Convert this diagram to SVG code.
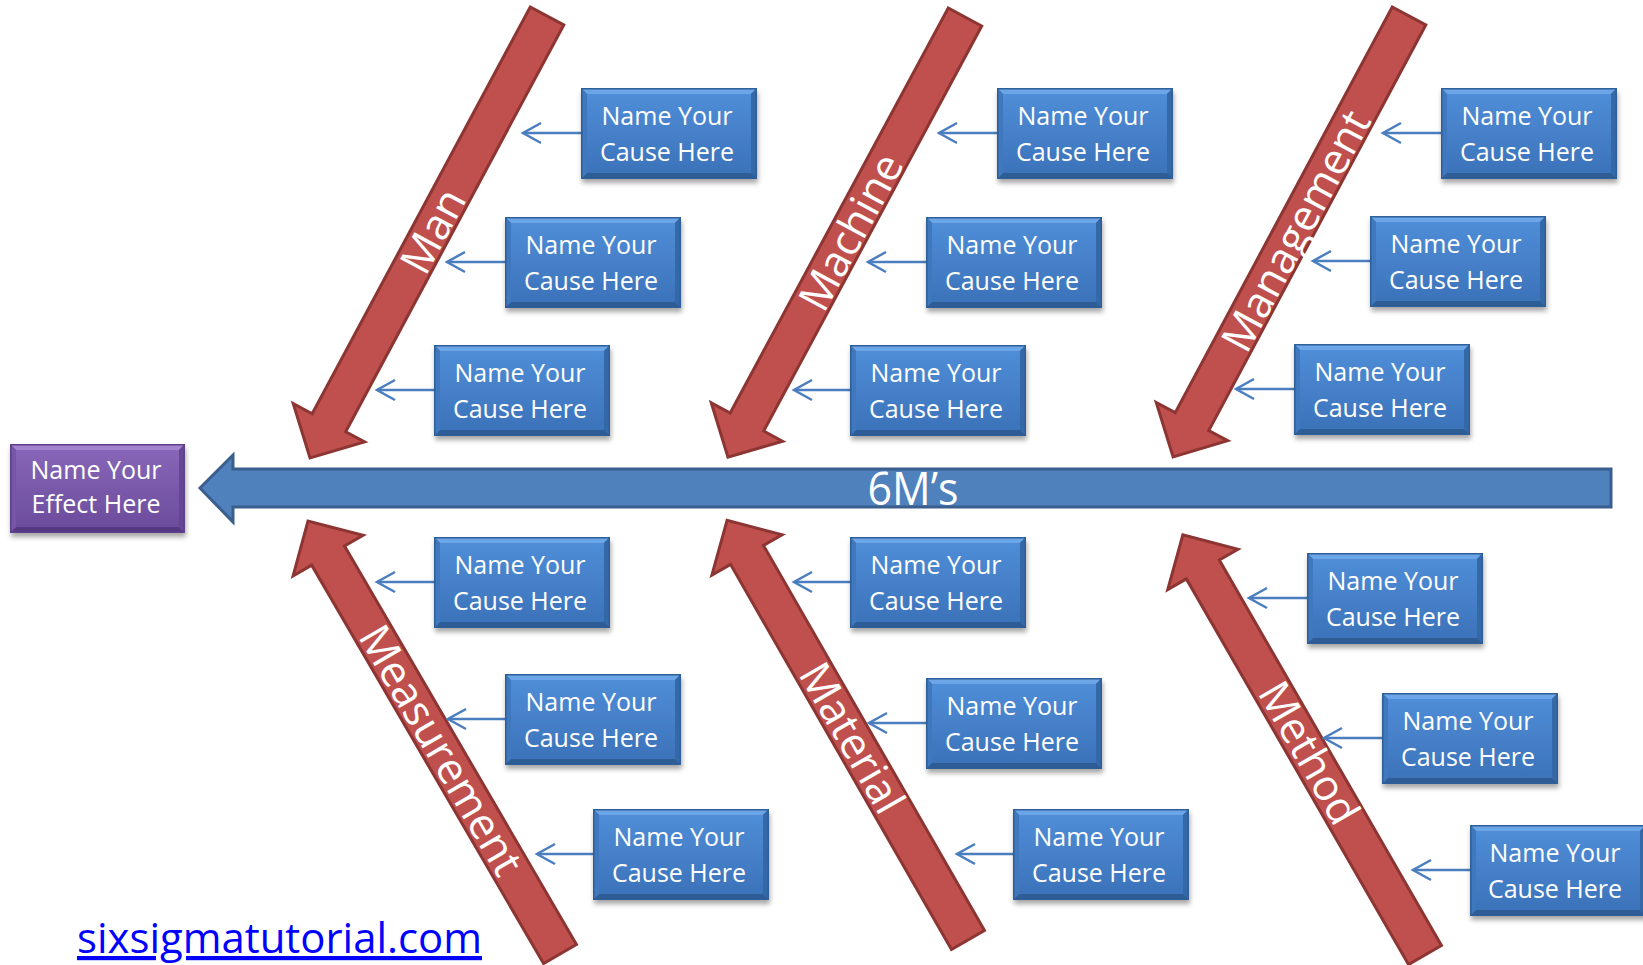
<svg xmlns="http://www.w3.org/2000/svg" xmlns:xlink="http://www.w3.org/1999/xlink" width="1643" height="965" viewBox="0 0 1643 965">
<style>
.ct{font-family:"Open Sans","Liberation Sans",sans-serif;font-size:25px;fill:#ffffff;text-anchor:middle}
.lbl{font-family:"Open Sans","Liberation Sans",sans-serif;font-size:43px;fill:#ffffff;text-anchor:middle}
.cat{fill:#C0504D;stroke:#8C3533;stroke-width:3;stroke-linejoin:miter}
.conn{stroke:#4A7EBF;stroke-width:2.5;fill:none}
.url{font-family:"Open Sans","Liberation Sans",sans-serif;font-size:42px;fill:#0000FF;text-decoration:underline}
</style>
<defs>
<linearGradient id="face" x1="0" y1="0" x2="0" y2="1">
<stop offset="0" stop-color="#4F8DD7"/><stop offset="1" stop-color="#3C73BA"/>
</linearGradient>
<linearGradient id="pface" x1="0" y1="0" x2="0" y2="1">
<stop offset="0" stop-color="#8766B8"/><stop offset="1" stop-color="#6C4C9D"/>
</linearGradient>
<filter id="sh" x="-10%" y="-10%" width="125%" height="135%">
<feDropShadow dx="1" dy="4" stdDeviation="2.5" flood-color="#000" flood-opacity="0.35"/>
</filter>
<marker id="chev" viewBox="-2 -2 24 24" refX="18" refY="10" markerWidth="24" markerHeight="24" markerUnits="userSpaceOnUse" orient="auto" overflow="visible">
<path d="M0,0 L18,10 L0,20" fill="none" stroke="#4A7EBF" stroke-width="2.5"/>
</marker>
<symbol id="cbox" viewBox="0 0 176 91" overflow="visible">
<rect x="0" y="0" width="176" height="91" fill="#3B6FB1"/>
<polygon points="0,0 176,0 170,6 6,6" fill="#6CA6E9"/>
<polygon points="0,91 176,91 170,85 6,85" fill="#2D5B94"/>
<polygon points="0,0 6,6 6,85 0,91" fill="#3F78BE"/>
<polygon points="176,0 170,6 170,85 176,91" fill="#3567A6"/>
<rect x="6" y="6" width="164" height="79" fill="url(#face)"/>
<rect x="0.75" y="0.75" width="174.5" height="89.5" fill="none" stroke="#2F5E98" stroke-width="1.5"/>
</symbol>
<symbol id="ebox" viewBox="0 0 175 89" overflow="visible">
<rect x="0" y="0" width="175" height="89" fill="#6E4C9E"/>
<polygon points="0,0 175,0 169,6 6,6" fill="#A284CF"/>
<polygon points="0,89 175,89 169,83 6,83" fill="#553884"/>
<polygon points="0,0 6,6 6,83 0,89" fill="#7755A8"/>
<polygon points="175,0 169,6 169,83 175,89" fill="#664594"/>
<rect x="6" y="6" width="163" height="77" fill="url(#pface)"/>
<rect x="0.75" y="0.75" width="173.5" height="87.5" fill="none" stroke="#5E3F8A" stroke-width="1.5"/>
</symbol>
</defs>
<rect width="1643" height="965" fill="#ffffff"/>

<g id="spine">
<path d="M200,488 L233,455 V469 H1611 V507 H233 V522 Z" fill="#4F81BD" stroke="#3B5F8C" stroke-width="3" stroke-linejoin="miter"/>
<text x="913" y="505" font-family="Open Sans, Liberation Sans, sans-serif" font-size="46" fill="#ffffff" text-anchor="middle" textLength="91" lengthAdjust="spacingAndGlyphs">6M’s</text>
</g>

<g id="effect">
<use href="#ebox" x="10" y="444" width="175" height="89" filter="url(#sh)"/>
<text class="ct" x="96" y="479">Name Your</text>
<text class="ct" x="96" y="513">Effect Here</text>
</g>

<g id="cat-man">
<path class="cat" transform="translate(547,16) rotate(118.2)" d="M0,-19 H461.5 V-40.5 L501.5,0 L461.5,40.5 V19 H0 Z"/>
<text class="lbl" transform="translate(433,231) rotate(-61.8)" y="15">Man</text>
</g>
<g id="cat-machine">
<path class="cat" transform="translate(965,17) rotate(118.3)" d="M0,-19 H460 V-40.5 L500,0 L460,40.5 V19 H0 Z"/>
<text class="lbl" transform="translate(851,232) rotate(-61.7)" y="15">Machine</text>
</g>
<g id="cat-management">
<path class="cat" transform="translate(1409,16) rotate(118.15)" d="M0,-19 H460 V-40.5 L500,0 L460,40.5 V19 H0 Z"/>
<text class="lbl" transform="translate(1296,231) rotate(-61.85)" y="15">Management</text>
</g>
<g id="cat-measurement">
<path class="cat" transform="translate(560,954) rotate(-120.2)" d="M0,-19 H461 V-40.5 L501,0 L461,40.5 V19 H0 Z"/>
<text class="lbl" transform="translate(441,750) rotate(59.8)" y="15">Measurement</text>
</g>
<g id="cat-material">
<path class="cat" transform="translate(968,940) rotate(-119.85)" d="M0,-19 H444 V-40.5 L484,0 L444,40.5 V19 H0 Z"/>
<text class="lbl" transform="translate(852,738) rotate(60.15)" y="15">Material</text>
</g>
<g id="cat-method">
<path class="cat" transform="translate(1425,955) rotate(-119.95)" d="M0,-19 H445 V-40.5 L485,0 L445,40.5 V19 H0 Z"/>
<text class="lbl" transform="translate(1309,753) rotate(60.05)" y="15">Method</text>
</g>

<g id="connectors">
<line class="conn" x1="581" y1="133" x2="523" y2="133" marker-end="url(#chev)"/>
<line class="conn" x1="505" y1="262" x2="447" y2="262" marker-end="url(#chev)"/>
<line class="conn" x1="434" y1="390" x2="377" y2="390" marker-end="url(#chev)"/>
<line class="conn" x1="997" y1="133" x2="939" y2="133" marker-end="url(#chev)"/>
<line class="conn" x1="926" y1="262" x2="868" y2="262" marker-end="url(#chev)"/>
<line class="conn" x1="850" y1="390" x2="794" y2="390" marker-end="url(#chev)"/>
<line class="conn" x1="1441" y1="133" x2="1383" y2="133" marker-end="url(#chev)"/>
<line class="conn" x1="1370" y1="261" x2="1313" y2="261" marker-end="url(#chev)"/>
<line class="conn" x1="1294" y1="389" x2="1236" y2="389" marker-end="url(#chev)"/>
<line class="conn" x1="434" y1="582" x2="377" y2="582" marker-end="url(#chev)"/>
<line class="conn" x1="505" y1="719" x2="448" y2="719" marker-end="url(#chev)"/>
<line class="conn" x1="593" y1="854" x2="537" y2="854" marker-end="url(#chev)"/>
<line class="conn" x1="850" y1="582" x2="794" y2="582" marker-end="url(#chev)"/>
<line class="conn" x1="926" y1="723" x2="869" y2="723" marker-end="url(#chev)"/>
<line class="conn" x1="1013" y1="854" x2="957" y2="854" marker-end="url(#chev)"/>
<line class="conn" x1="1307" y1="598" x2="1249" y2="598" marker-end="url(#chev)"/>
<line class="conn" x1="1382" y1="738" x2="1324" y2="738" marker-end="url(#chev)"/>
<line class="conn" x1="1470" y1="870" x2="1413" y2="870" marker-end="url(#chev)"/>
</g>

<g id="man-1"><use href="#cbox" x="581" y="88" width="176" height="91" filter="url(#sh)"/><text class="ct" x="667" y="125">Name Your</text><text class="ct" x="667" y="161">Cause Here</text></g>
<g id="man-2"><use href="#cbox" x="505" y="217" width="176" height="91" filter="url(#sh)"/><text class="ct" x="591" y="254">Name Your</text><text class="ct" x="591" y="290">Cause Here</text></g>
<g id="man-3"><use href="#cbox" x="434" y="345" width="176" height="91" filter="url(#sh)"/><text class="ct" x="520" y="382">Name Your</text><text class="ct" x="520" y="418">Cause Here</text></g>

<g id="machine-1"><use href="#cbox" x="997" y="88" width="176" height="91" filter="url(#sh)"/><text class="ct" x="1083" y="125">Name Your</text><text class="ct" x="1083" y="161">Cause Here</text></g>
<g id="machine-2"><use href="#cbox" x="926" y="217" width="176" height="91" filter="url(#sh)"/><text class="ct" x="1012" y="254">Name Your</text><text class="ct" x="1012" y="290">Cause Here</text></g>
<g id="machine-3"><use href="#cbox" x="850" y="345" width="176" height="91" filter="url(#sh)"/><text class="ct" x="936" y="382">Name Your</text><text class="ct" x="936" y="418">Cause Here</text></g>

<g id="management-1"><use href="#cbox" x="1441" y="88" width="176" height="91" filter="url(#sh)"/><text class="ct" x="1527" y="125">Name Your</text><text class="ct" x="1527" y="161">Cause Here</text></g>
<g id="management-2"><use href="#cbox" x="1370" y="216" width="176" height="91" filter="url(#sh)"/><text class="ct" x="1456" y="253">Name Your</text><text class="ct" x="1456" y="289">Cause Here</text></g>
<g id="management-3"><use href="#cbox" x="1294" y="344" width="176" height="91" filter="url(#sh)"/><text class="ct" x="1380" y="381">Name Your</text><text class="ct" x="1380" y="417">Cause Here</text></g>

<g id="measurement-1"><use href="#cbox" x="434" y="537" width="176" height="91" filter="url(#sh)"/><text class="ct" x="520" y="574">Name Your</text><text class="ct" x="520" y="610">Cause Here</text></g>
<g id="measurement-2"><use href="#cbox" x="505" y="674" width="176" height="91" filter="url(#sh)"/><text class="ct" x="591" y="711">Name Your</text><text class="ct" x="591" y="747">Cause Here</text></g>
<g id="measurement-3"><use href="#cbox" x="593" y="809" width="176" height="91" filter="url(#sh)"/><text class="ct" x="679" y="846">Name Your</text><text class="ct" x="679" y="882">Cause Here</text></g>

<g id="material-1"><use href="#cbox" x="850" y="537" width="176" height="91" filter="url(#sh)"/><text class="ct" x="936" y="574">Name Your</text><text class="ct" x="936" y="610">Cause Here</text></g>
<g id="material-2"><use href="#cbox" x="926" y="678" width="176" height="91" filter="url(#sh)"/><text class="ct" x="1012" y="715">Name Your</text><text class="ct" x="1012" y="751">Cause Here</text></g>
<g id="material-3"><use href="#cbox" x="1013" y="809" width="176" height="91" filter="url(#sh)"/><text class="ct" x="1099" y="846">Name Your</text><text class="ct" x="1099" y="882">Cause Here</text></g>

<g id="method-1"><use href="#cbox" x="1307" y="553" width="176" height="91" filter="url(#sh)"/><text class="ct" x="1393" y="590">Name Your</text><text class="ct" x="1393" y="626">Cause Here</text></g>
<g id="method-2"><use href="#cbox" x="1382" y="693" width="176" height="91" filter="url(#sh)"/><text class="ct" x="1468" y="730">Name Your</text><text class="ct" x="1468" y="766">Cause Here</text></g>
<g id="method-3"><use href="#cbox" x="1470" y="825" width="176" height="91" filter="url(#sh)"/><text class="ct" x="1555" y="862">Name Your</text><text class="ct" x="1555" y="898">Cause Here</text></g>

<text class="url" x="77" y="953" textLength="405" lengthAdjust="spacingAndGlyphs">sixsigmatutorial.com</text>
</svg>
